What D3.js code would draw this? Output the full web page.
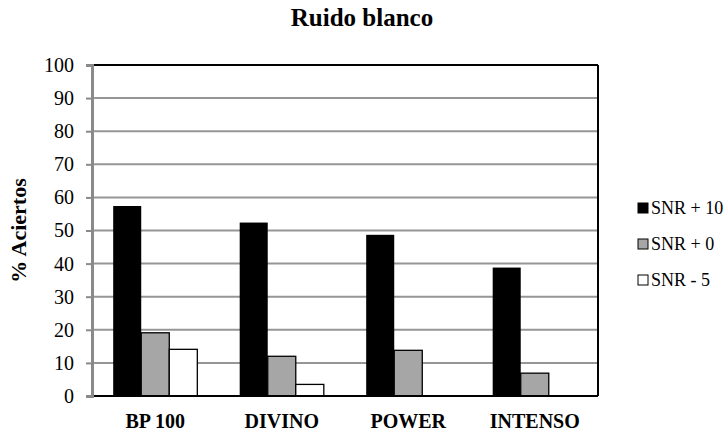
<!DOCTYPE html>
<html><head><meta charset="utf-8">
<script src="https://cdn.jsdelivr.net/npm/d3@7"></script>
<style>body{margin:0;background:#fff}svg{display:block}</style>
</head><body><svg id="c" width="727" height="433"></svg>
<script>
const categories = ["BP 100", "DIVINO", "POWER", "INTENSO"];
const seriesNames = ["SNR + 10", "SNR + 0", "SNR - 5"];
const snr10 = [57.4, 52.4, 48.7, 38.8];
const snr0 = [19.1, 12.0, 13.8, 6.9];
const snrm5 = [14.1, 3.5, 0, 0];
const yTicks = [0, 10, 20, 30, 40, 50, 60, 70, 80, 90, 100];
const colors = ["#000000", "#a6a6a6", "#ffffff"];

const series = [snr10, snr0, snrm5];
const svg = d3.select("#c");
const L = 92, R = 598, T = 65, B = 396;
const x = d3.scaleBand().domain(categories).range([L, R]).paddingInner(0.335).paddingOuter(0.1675);
const xs = d3.scaleBand().domain(seriesNames).range([0, x.bandwidth()]);
const y = d3.scaleLinear().domain([0, 100]).range([B, T]);

// gridlines
svg.append("g").selectAll("line").data(yTicks.filter(d => d > 0 && d < 100)).join("line")
  .attr("x1", L).attr("x2", R).attr("y1", d => y(d)).attr("y2", d => y(d))
  .attr("stroke", "#969696").attr("stroke-width", 2);

// bars
const g = svg.append("g");
categories.forEach((c, i) => {
  series.forEach((s, j) => {
    if (s[i] <= 0) return;
    g.append("rect")
      .attr("x", x(c) + xs(seriesNames[j]))
      .attr("y", y(s[i]))
      .attr("width", xs.bandwidth())
      .attr("height", y(0) - y(s[i]))
      .attr("fill", colors[j])
      .attr("stroke", "#000").attr("stroke-width", j === 0 ? 0 : 1.3);
  });
});

// frame
svg.append("line").attr("x1", L).attr("x2", R).attr("y1", T).attr("y2", T).attr("stroke", "#000").attr("stroke-width", 2);
svg.append("line").attr("x1", R).attr("x2", R).attr("y1", T).attr("y2", B).attr("stroke", "#000").attr("stroke-width", 2);
svg.append("line").attr("x1", L).attr("x2", R).attr("y1", B).attr("y2", B).attr("stroke", "#000").attr("stroke-width", 2);

// y axis
const ya = svg.append("g").attr("transform", `translate(${L},0)`)
  .call(d3.axisLeft(y).tickValues(yTicks).tickSize(6).tickPadding(12));
ya.select(".domain").attr("stroke", "#8a8a8a").attr("stroke-width", 3);
ya.selectAll(".tick line").attr("stroke", "#8a8a8a").attr("stroke-width", 2);
ya.selectAll("text").attr("font-size", 20).attr("fill", "#000");

// x axis labels
const xa = svg.append("g").attr("transform", `translate(0,${B})`)
  .call(d3.axisBottom(x).tickSize(0).tickPadding(18));
xa.select(".domain").remove();
xa.selectAll("text").attr("font-size", 20).attr("font-weight", "bold").attr("fill", "#000");

// title
svg.append("text").attr("x", 362).attr("y", 26).attr("text-anchor", "middle")
  .attr("font-size", 25).attr("font-weight", "bold").text("Ruido blanco");

// y label
svg.append("text").attr("transform", `translate(26,${(T + B) / 2}) rotate(-90)`)
  .attr("text-anchor", "middle").attr("font-size", 22).attr("font-weight", "bold").text("% Aciertos");

// legend
const lg = svg.append("g");
seriesNames.forEach((n, j) => {
  const cy = 208 + j * 36;
  lg.append("rect").attr("x", 638).attr("y", cy - 5).attr("width", 10).attr("height", 10)
    .attr("fill", colors[j]).attr("stroke", "#000").attr("stroke-width", 1);
  lg.append("text").attr("x", 651).attr("y", cy + 6).attr("font-size", 18).text(n);
});

svg.selectAll("text").style("font-family", '"Liberation Serif", "Times New Roman", serif');
</script></body></html>
